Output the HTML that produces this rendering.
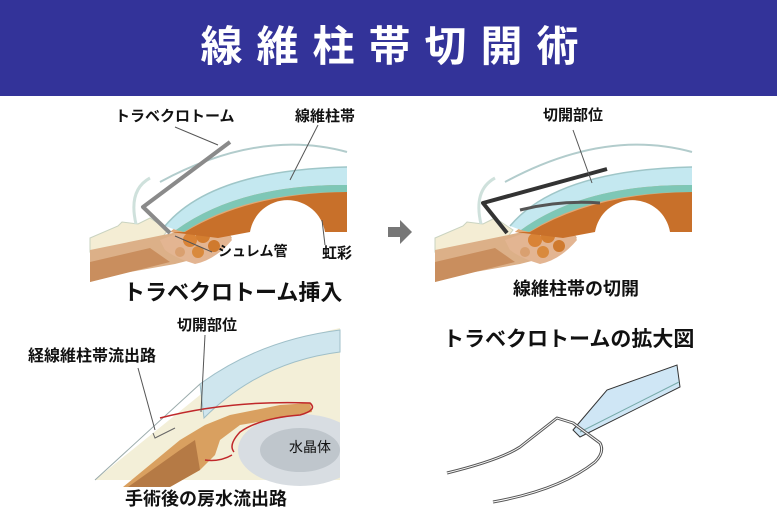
<!DOCTYPE html>
<html><head><meta charset="utf-8">
<style>
html,body{margin:0;padding:0;background:#fff;}
body{width:777px;height:517px;overflow:hidden;position:relative;font-family:"Liberation Sans","Noto Sans CJK JP",sans-serif;}
.bar{position:absolute;left:0;top:0;width:777px;height:96px;background:#333399;}
.title{position:absolute;left:8px;top:22px;width:777px;text-align:center;color:#fff;font-size:42px;font-weight:bold;letter-spacing:14px;line-height:50px;}
.t{position:absolute;font-weight:bold;color:#111;white-space:nowrap;line-height:1;}
svg{position:absolute;left:0;top:0;}
</style></head><body>
<div class="bar"></div>
<div class="title">線維柱帯切開術</div>
<svg width="777" height="517" viewBox="0 0 777 517">
<defs>
<g id="eye">
  <path d="M90,238 L118,226 L122,222 L138,224 L150,218 L168,230 L160,240 L90,252 Z" fill="#f4edd4" stroke="#c9d3c0" stroke-width="1"/>
  <path d="M136,224 Q128,190 150,178" fill="none" stroke="#cfe1dc" stroke-width="3"/>
  <path d="M90,250 L168,234 L222,222 L232,238 L210,255 L175,264 L130,272 L90,282 Z" fill="#dcb088"/>
  <path d="M90,262 L150,248 L170,262 L130,272 L90,282 Z" fill="#c98e5e"/>
  <path d="M160,240 Q190,228 222,224 L232,240 Q215,260 195,264 Q175,258 165,250 Z" fill="#e3b592"/>
  <circle cx="190" cy="240" r="7" fill="#d98336"/><circle cx="203" cy="236" r="7" fill="#d47e30"/>
  <circle cx="214" cy="246" r="6" fill="#cf7a2e"/><circle cx="198" cy="252" r="6" fill="#d98a3d"/>
  <circle cx="180" cy="252" r="5" fill="#d9a070"/>
  <path d="M170,232 Q225,185 347,182 L347,232 L325,232 A38,38 0 0 0 250,232 L218,238 Z" fill="#c8702a"/>
  <path d="M170,232 Q225,185 347,182 L347,192 Q250,193 185,232 Z" fill="#e2a774"/>
  <path d="M165,226 Q212,170 347,167 L347,185 Q240,184 176,230 Z" fill="#c4e8f0"/>
  <path d="M176,230 Q240,184 347,185 L347,192 Q245,192 184,232 Z" fill="#7ec7b6"/>
  <path d="M165,226 Q212,170 347,167" fill="none" stroke="#9fc6c8" stroke-width="1.5"/>
  <path d="M160,182 Q260,128 347,152" fill="none" stroke="#b2cccc" stroke-width="2"/>
</g>
</defs>
<use href="#eye"/>
<path d="M230,142 L143,207 L170,233" fill="none" stroke="#8a8a8a" stroke-width="4" stroke-linejoin="round"/>
<line x1="175" y1="127" x2="218" y2="145" stroke="#555" stroke-width="1"/>
<line x1="318" y1="125" x2="290" y2="180" stroke="#555" stroke-width="1"/>
<line x1="212" y1="252" x2="175" y2="236" stroke="#555" stroke-width="1"/>
<line x1="325" y1="245" x2="322" y2="220" stroke="#555" stroke-width="1"/>
<polygon points="388,227 400,227 400,220 412,232 400,244 400,237 388,237" fill="#777"/>
<use href="#eye" transform="translate(345,0)"/>
<path d="M607,169 L483,203 L507,233" fill="none" stroke="#333" stroke-width="4" stroke-linejoin="round"/>
<path d="M520,210 Q560,200 600,203" fill="none" stroke="#555" stroke-width="3"/>
<line x1="573" y1="130" x2="592" y2="183" stroke="#555" stroke-width="1"/>
<path d="M95,480 L200,395 Q260,345 340,328 L340,480 Z" fill="#f3efd8"/>
<path d="M200,384 Q260,340 340,330 L340,352 Q260,362 204,418 Z" fill="#cfe6ee" stroke="#9fbfc8" stroke-width="1"/>
<path d="M95,480 L200,384" fill="none" stroke="#9aa" stroke-width="1"/>
<ellipse cx="300" cy="450" rx="62" ry="36" fill="#d8dde2"/>
<ellipse cx="300" cy="450" rx="40" ry="22" fill="#bfc6cc"/>
<rect x="340" y="400" width="40" height="100" fill="#fff"/>
<path d="M123,487 L180,440 L205,425 L230,415 L280,405 L310,403 L312,412 L270,420 L240,425 L220,440 L215,455 L200,470 L170,487 Z" fill="#d9a060"/>
<path d="M128,487 L180,450 L195,440 L200,470 L170,487 Z" fill="#b57a45"/>
<path d="M160,418 Q230,400 310,403 Q318,410 300,415 Q260,418 240,432 Q228,445 234,452" fill="none" stroke="#c0282a" stroke-width="1.5"/>
<path d="M205,460 Q220,462 232,455" fill="none" stroke="#c0282a" stroke-width="1.5"/>
<path d="M153,433 L155,438 L175,428" fill="none" stroke="#666" stroke-width="1"/>
<line x1="205" y1="335" x2="201" y2="412" stroke="#555" stroke-width="1"/>
<line x1="138" y1="368" x2="155" y2="430" stroke="#555" stroke-width="1"/>
<polygon points="573,430 607,390 677,365 680,387 580,437" fill="#cfe6f5" stroke="#333" stroke-width="1"/>
<line x1="580" y1="432" x2="679" y2="382" stroke="#7aa" stroke-width="1"/>
<path d="M447,473 Q500,460 520,447 L557,418 L573,423 L600,443 Q605,452 595,462 Q560,490 493,502" fill="none" stroke="#555" stroke-width="3" stroke-linejoin="round"/>
<path d="M447,473 Q500,460 520,447 L557,418 L573,423 L600,443 Q605,452 595,462 Q560,490 493,502" fill="none" stroke="#fff" stroke-width="1"/>
</svg>
<div class="t" style="left:115px;top:109px;font-size:15px;">トラベクロトーム</div>
<div class="t" style="left:295px;top:109px;font-size:15px;">線維柱帯</div>
<div class="t" style="left:218px;top:244px;font-size:14px;">シュレム管</div>
<div class="t" style="left:322px;top:246px;font-size:15px;">虹彩</div>
<div class="t" style="left:123px;top:282px;font-size:22px;">トラベクロトーム挿入</div>
<div class="t" style="left:543px;top:108px;font-size:15px;">切開部位</div>
<div class="t" style="left:513px;top:280px;font-size:18px;">線維柱帯の切開</div>
<div class="t" style="left:177px;top:318px;font-size:15px;">切開部位</div>
<div class="t" style="left:28px;top:349px;font-size:16px;">経線維柱帯流出路</div>
<div class="t" style="left:289px;top:440px;font-size:14px;font-weight:normal;">水晶体</div>
<div class="t" style="left:125px;top:490px;font-size:18px;">手術後の房水流出路</div>
<div class="t" style="left:443px;top:329px;font-size:21px;">トラベクロトームの拡大図</div>
</body></html>
